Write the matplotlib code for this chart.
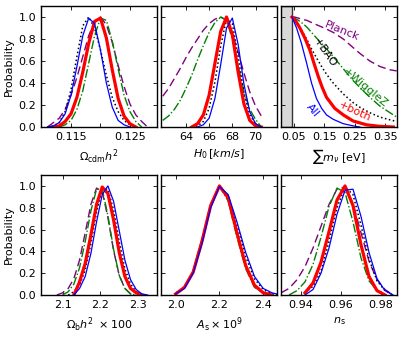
import numpy as np
import matplotlib.pyplot as plt

# panel 1: Omega_cdm h^2
ocdm_x = [0.111, 0.112, 0.113, 0.114, 0.115, 0.116, 0.117, 0.118, 0.119,
          0.120, 0.121, 0.122, 0.123, 0.124, 0.125, 0.126, 0.127, 0.128]
ocdm_all = [0.0, 0.01, 0.04, 0.12, 0.29, 0.55, 0.83, 0.99, 0.94,
            0.70, 0.40, 0.18, 0.06, 0.02, 0.0, np.nan, np.nan, np.nan]
ocdm_both = [np.nan, 0.0, 0.01, 0.05, 0.12, 0.27, 0.50, 0.76, 0.96,
             0.99, 0.81, 0.52, 0.26, 0.10, 0.03, 0.0, np.nan, np.nan]
ocdm_bao = [0.0, 0.01, 0.04, 0.14, 0.34, 0.64, 0.92, 1.0, 0.90,
            0.70, 0.47, 0.27, 0.14, 0.06, 0.02, 0.0, np.nan, np.nan]
ocdm_wig = [np.nan, np.nan, 0.0, 0.02, 0.06, 0.16, 0.33, 0.58, 0.83,
            0.99, 0.97, 0.78, 0.53, 0.29, 0.14, 0.05, 0.0, np.nan]
ocdm_planck = [0.0, 0.04, 0.08, 0.16, 0.29, 0.45, 0.64, 0.83, 0.96,
               1.0, 0.93, 0.77, 0.56, 0.37, 0.21, 0.11, 0.05, 0.0]

# panel 2: H0
h0_x = [62.0, 62.5, 63.0, 63.5, 64.0, 64.5, 65.0, 65.5, 66.0, 66.5,
        67.0, 67.5, 68.0, 68.5, 69.0, 69.5, 70.0, 70.5, 71.0, 71.5]
h0_all = [np.nan] * 6 + [0.0, 0.02, 0.08, 0.26, 0.57, 0.90, 0.99, 0.75,
                         0.39, 0.14, 0.03, 0.0, np.nan, np.nan]
h0_both = [np.nan] * 5 + [0.0, 0.03, 0.11, 0.29, 0.58, 0.87, 1.0, 0.84,
                          0.50, 0.21, 0.06, 0.01, 0.0, np.nan, np.nan]
h0_bao = [np.nan] * 5 + [0.0, 0.01, 0.05, 0.17, 0.41, 0.74, 0.98, 0.94,
                         0.64, 0.31, 0.11, 0.03, 0.0, np.nan, np.nan]
h0_wig = [0.06, 0.10, 0.16, 0.24, 0.35, 0.47, 0.61, 0.74, 0.86, 0.95,
          1.0, 0.97, 0.80, 0.56, 0.32, 0.16, 0.07, 0.0, np.nan, np.nan]
h0_planck = [0.28, 0.35, 0.44, 0.53, 0.63, 0.72, 0.80, 0.88, 0.94, 0.98,
             1.0, 0.97, 0.85, 0.68, 0.49, 0.32, 0.19, 0.10, np.nan, np.nan]

# panel 3: sum of neutrino masses
mnu_all_x = [0.044, 0.059, 0.075, 0.092, 0.108, 0.124, 0.141, 0.157, 0.179, 0.212, 0.245, 0.266]
mnu_all = [1.0, 0.9, 0.76, 0.58, 0.40, 0.26, 0.17, 0.11, 0.07, 0.03, 0.01, 0.0]
mnu_both_x = [0.044, 0.057, 0.070, 0.086, 0.1025, 0.116, 0.130, 0.143, 0.157,
              0.184, 0.212, 0.244, 0.288, 0.332, 0.376]
mnu_both = [1.0, 0.96, 0.90, 0.81, 0.70, 0.58, 0.46, 0.36, 0.27,
            0.17, 0.11, 0.055, 0.02, 0.006, 0.0]
mnu_x = [0.044, 0.052, 0.065, 0.075, 0.092, 0.108, 0.124, 0.141, 0.157,
         0.179, 0.212, 0.245, 0.266, 0.299, 0.332, 0.365, 0.387]
mnu_bao = [1.0, 0.97, 0.92, 0.88, 0.80, 0.71, 0.63, 0.55, 0.48,
           0.40, 0.30, 0.22, 0.18, 0.13, 0.09, 0.065, 0.05]
mnu_wig = [1.0, 0.99, 0.97, 0.95, 0.91, 0.86, 0.81, 0.76, 0.71,
           0.64, 0.53, 0.42, 0.36, 0.27, 0.19, 0.13, 0.09]
mnu_planck = [1.0, 1.0, 0.99, 0.98, 0.97, 0.95, 0.93, 0.91, 0.89,
              0.86, 0.80, 0.72, 0.67, 0.60, 0.55, 0.52, 0.51]

# panel 4: Omega_b h^2 x 100
ob_x = [2.07, 2.085, 2.10, 2.115, 2.13, 2.145, 2.16, 2.175, 2.19, 2.205,
        2.22, 2.235, 2.25, 2.265, 2.28, 2.295, 2.31, 2.325, 2.34]
ob_all = [np.nan] * 4 + [0.0, 0.06, 0.17, 0.38, 0.67, 0.92, 1.0, 0.86,
                         0.59, 0.32, 0.14, 0.05, 0.01, 0.0, np.nan]
ob_both = [np.nan] * 4 + [0.0, 0.12, 0.29, 0.55, 0.83, 0.99, 0.93, 0.69,
                          0.39, 0.17, 0.06, 0.02, 0.0, np.nan, np.nan]
ob_bao = [np.nan] * 3 + [0.0, 0.03, 0.09, 0.23, 0.47, 0.76, 0.97, 0.97, 0.78,
                         0.49, 0.24, 0.10, 0.03, 0.0, np.nan, np.nan]
ob_wig = [np.nan, np.nan, 0.0, 0.03, 0.10, 0.25, 0.49, 0.77, 0.97, 0.97,
          0.73, 0.42, 0.18, 0.06, 0.01, 0.0, np.nan, np.nan, np.nan]
ob_planck = [np.nan, 0.0, 0.02, 0.06, 0.15, 0.32, 0.57, 0.83, 0.98, 0.95,
             0.71, 0.41, 0.18, 0.06, 0.01, 0.0, np.nan, np.nan, np.nan]

# panel 5: A_s x 10^9
as_x = [1.96, 2.00, 2.04, 2.08, 2.12, 2.16, 2.20, 2.24, 2.28, 2.32, 2.36, 2.40, 2.44, 2.48]
as_all = [np.nan, 0.01, 0.06, 0.20, 0.47, 0.80, 0.995, 0.92, 0.67, 0.39, 0.17, 0.06, 0.02, 0.0]
as_both = [np.nan, 0.01, 0.07, 0.21, 0.49, 0.82, 1.0, 0.89, 0.57, 0.27, 0.09, 0.02, 0.0, np.nan]
as_bao = [np.nan, 0.01, 0.07, 0.22, 0.50, 0.82, 1.0, 0.91, 0.64, 0.35, 0.15, 0.05, 0.01, 0.0]
as_wig = [np.nan, 0.01, 0.07, 0.22, 0.51, 0.83, 1.0, 0.86, 0.53, 0.24, 0.07, 0.02, 0.0, np.nan]

# panel 6: n_s
ns_x = [0.930, 0.934, 0.938, 0.942, 0.946, 0.950, 0.954, 0.958,
        0.962, 0.966, 0.970, 0.974, 0.978, 0.982, 0.986]
ns_all = [np.nan, np.nan, np.nan, 0.0, 0.05, 0.20, 0.43, 0.74,
          0.96, 0.97, 0.72, 0.39, 0.15, 0.04, 0.0]
ns_both = [np.nan, np.nan, np.nan, 0.02, 0.11, 0.30, 0.58, 0.87,
           1.0, 0.82, 0.46, 0.17, 0.04, 0.0, np.nan]
ns_bao = [np.nan, np.nan, np.nan, 0.02, 0.08, 0.22, 0.49, 0.80,
          0.99, 0.92, 0.64, 0.33, 0.13, 0.04, 0.0]
ns_wig = [np.nan, 0.0, 0.04, 0.12, 0.28, 0.53, 0.81, 0.98,
          0.94, 0.67, 0.34, 0.13, 0.04, 0.0, np.nan]
ns_planck = [0.02, 0.06, 0.14, 0.26, 0.43, 0.63, 0.83, 0.97,
             0.99, 0.84, 0.57, 0.31, 0.14, 0.05, 0.0]

purple = '#800080'
green = '#008000'
styles = {
    'planck': dict(color=purple, ls=(0, (6, 3)), lw=1.0),
    'wig': dict(color=green, ls='-.', lw=1.0),
    'bao': dict(color='k', ls=':', lw=1.1),
    'both': dict(color='r', ls='-', lw=2.3),
    'all': dict(color='b', ls='-', lw=0.9),
}

plt.rcParams['font.size'] = 8
plt.rcParams['xtick.direction'] = 'in'
plt.rcParams['ytick.direction'] = 'in'
plt.rcParams['xtick.top'] = True
plt.rcParams['ytick.right'] = True

fig = plt.figure(figsize=(4.07, 3.39), dpi=100)
W, H = 407.0, 339.0
lefts = [41, 161, 281]
axes = []
for row, (top, bot) in enumerate([(6, 127), (175, 295)]):
    for col in range(3):
        ax = fig.add_axes([lefts[col] / W, 1 - bot / H, 116 / W, (bot - top) / H])
        axes.append(ax)

panels = [
    (ocdm_x, {'planck': ocdm_planck, 'wig': ocdm_wig, 'bao': ocdm_bao, 'both': ocdm_both, 'all': ocdm_all}),
    (h0_x, {'planck': h0_planck, 'wig': h0_wig, 'bao': h0_bao, 'both': h0_both, 'all': h0_all}),
    (mnu_x, {'planck': mnu_planck, 'wig': mnu_wig, 'bao': mnu_bao}),
    (ob_x, {'planck': ob_planck, 'wig': ob_wig, 'bao': ob_bao, 'both': ob_both, 'all': ob_all}),
    (as_x, {'wig': as_wig, 'bao': as_bao, 'both': as_both, 'all': as_all}),
    (ns_x, {'planck': ns_planck, 'wig': ns_wig, 'bao': ns_bao, 'both': ns_both, 'all': ns_all}),
]
for ax, (xs, curves) in zip(axes, panels):
    for key, ys in curves.items():
        ax.plot(xs, ys, **styles[key])
axes[2].plot(mnu_both_x, mnu_both, **styles['both'])
axes[2].plot(mnu_all_x, mnu_all, **styles['all'])

xlims = [(0.1099, 0.1296), (61.85, 71.85), (0.008, 0.388),
         (2.043, 2.35), (1.933, 2.463), (0.930, 0.988)]
xticks = [[0.115, 0.120, 0.125], [64, 66, 68, 70], [0.05, 0.15, 0.25, 0.35],
          [2.1, 2.2, 2.3], [2.0, 2.2, 2.4], [0.94, 0.96, 0.98]]
xticklabels = [['0.115', '', '0.125'], ['64', '66', '68', '70'],
               ['0.05', '0.15', '0.25', '0.35'], ['2.1', '2.2', '2.3'],
               ['2.0', '2.2', '2.4'], ['0.94', '0.96', '0.98']]
xlabels = [r'$\Omega_{\rm cdm}h^2$', r'$H_0\,[km/s]$', r'$\sum m_\nu$ [eV]',
           r'$\Omega_{\rm b}h^2\ \times 100$', r'$A_{\rm s}\times 10^9$', r'$n_{\rm s}$']

for i, ax in enumerate(axes):
    ax.set_xlim(*xlims[i])
    ax.set_ylim(0, 1.1)
    ax.set_xticks(xticks[i])
    ax.set_xticklabels(xticklabels[i])
    ax.set_yticks([0, 0.2, 0.4, 0.6, 0.8, 1.0])
    ax.set_xlabel(xlabels[i], fontsize=8, labelpad=4)
    ax.tick_params(labelsize=8, length=3, width=0.6)
    for s in ax.spines.values():
        s.set_linewidth(1.0)
    if i % 3 == 0:
        ax.set_ylabel('Probability', fontsize=8, labelpad=3)
    else:
        ax.set_yticklabels([])

# excluded region for sum of masses
axes[2].axvspan(0.0, 0.044, facecolor='#d8d8d8', edgecolor='#333333', lw=1.0, zorder=0)

axes[2].text(0.206, 0.87, 'Planck', color=purple, rotation=-22, ha='center', va='center', fontsize=8)
axes[2].text(0.150, 0.67, '+BAO', color='k', rotation=-55, ha='center', va='center', fontsize=8)
axes[2].text(0.285, 0.36, '+WiggleZ', color=green, rotation=-40, ha='center', va='center', fontsize=8)
axes[2].text(0.113, 0.15, 'All', color='b', rotation=-50, ha='center', va='center', fontsize=8)
axes[2].text(0.25, 0.14, '+both', color='r', rotation=-25, ha='center', va='center', fontsize=8)

fig.savefig('out.png', dpi=100)
